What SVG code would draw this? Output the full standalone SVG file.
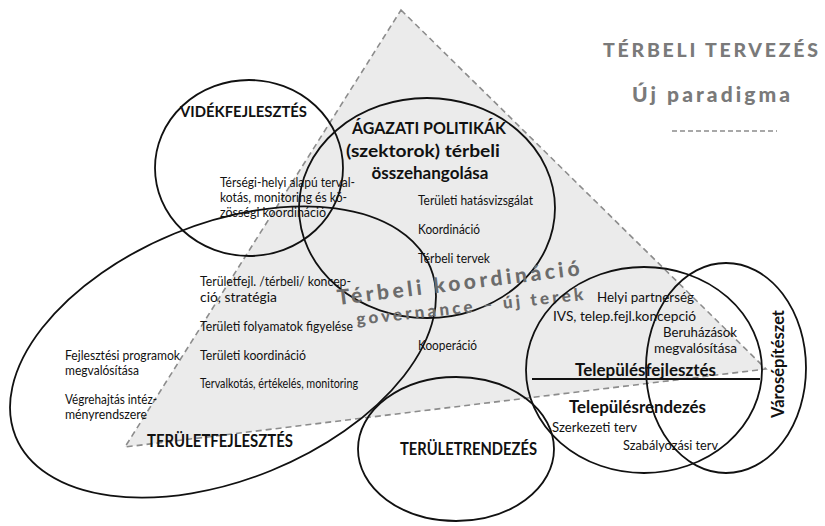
<svg xmlns="http://www.w3.org/2000/svg" width="825" height="526" viewBox="0 0 825 526">
<style>
  .tri{fill:#ebebeb;stroke:#8c8c8c;stroke-width:1.6;stroke-dasharray:6 4}
  .ring{fill:none;stroke:#111;stroke-width:1.8}
  .t{font-family:Lato,"Open Sans","Liberation Sans",sans-serif;fill:#111;font-size:13.5px}
  .r{font-size:14px}
  .s{font-size:12.5px}
  .b{font-weight:bold;font-size:16.5px}
  .title{font-family:Lato,"Open Sans","Liberation Sans",sans-serif;font-weight:900;fill:#7a7a7a}
  .big{font-family:Lato,"Open Sans","Liberation Sans",sans-serif;font-weight:900;fill:#6c6c6c}
</style>
<rect width="825" height="526" fill="#fff"/>

<g id="terbeli-koordinacio">
  <polygon class="tri" points="401,10 766,369 125,447"/>
</g>

<g id="cim">
  <text class="title" x="603" y="57" font-size="19.5" textLength="215" lengthAdjust="spacing">TÉRBELI TERVEZÉS</text>
  <text class="title" x="632" y="102" font-size="21" textLength="158" lengthAdjust="spacing">Új paradigma</text>
  <line x1="672" y1="131" x2="777" y2="131" stroke="#8c8c8c" stroke-width="1.6" stroke-dasharray="5 3"/>
</g>

<g id="videkfejlesztes">
  <ellipse class="ring" cx="249" cy="168" rx="94" ry="88"/>
  <text class="t b" x="180" y="117" style="font-size:15.5px" textLength="127" lengthAdjust="spacingAndGlyphs">VIDÉKFEJLESZTÉS</text>
</g>

<g id="agazati-politikak">
  <ellipse class="ring" cx="427" cy="208" rx="128" ry="110"/>
  <text class="t b" x="429" y="134" text-anchor="middle" style="font-size:17.5px" textLength="154" lengthAdjust="spacingAndGlyphs">ÁGAZATI POLITIKÁK</text>
  <text class="t b" x="423" y="157" text-anchor="middle" style="font-size:17.5px" textLength="154" lengthAdjust="spacingAndGlyphs">(szektorok) térbeli</text>
  <text class="t b" x="430" y="179" text-anchor="middle" style="font-size:17.5px" textLength="117" lengthAdjust="spacingAndGlyphs">összehangolása</text>
  <text class="t" x="418" y="205" textLength="115" lengthAdjust="spacingAndGlyphs">Területi hatásvizsgálat</text>
  <text class="t" x="418" y="234" textLength="62" lengthAdjust="spacingAndGlyphs">Koordináció</text>
  <text class="t" x="418" y="263" textLength="72" lengthAdjust="spacingAndGlyphs">Térbeli tervek</text>
</g>

<g id="kozossegi-koordinacio">
  <text class="t" x="220" y="187" textLength="135" lengthAdjust="spacingAndGlyphs">Térségi-helyi alapú terval-</text>
  <text class="t" x="220" y="202" textLength="127" lengthAdjust="spacingAndGlyphs">kotás, monitoring és kö-</text>
  <text class="t" x="220" y="217" textLength="106" lengthAdjust="spacingAndGlyphs">zösségi koordináció</text>
</g>

<g id="teruletfejlesztes">
  <ellipse class="ring" cx="223" cy="352" rx="224" ry="128" transform="rotate(-22.2 223 352)"/>
  <text class="t" x="200" y="286" textLength="151" lengthAdjust="spacingAndGlyphs">Területfejl. /térbeli/ koncep-</text>
  <text class="t" x="200" y="302" textLength="77" lengthAdjust="spacingAndGlyphs">ció, stratégia</text>
  <text class="t" x="200" y="331" textLength="153" lengthAdjust="spacingAndGlyphs">Területi folyamatok figyelése</text>
  <text class="t" x="200" y="360" textLength="106" lengthAdjust="spacingAndGlyphs">Területi koordináció</text>
  <text class="t s" x="200" y="388" textLength="158" lengthAdjust="spacingAndGlyphs">Tervalkotás, értékelés, monitoring</text>
  <text class="t" x="65" y="360" textLength="115" lengthAdjust="spacingAndGlyphs">Fejlesztési programok</text>
  <text class="t" x="65" y="375" textLength="74" lengthAdjust="spacingAndGlyphs">megvalósítása</text>
  <text class="t" x="65" y="404" textLength="92" lengthAdjust="spacingAndGlyphs">Végrehajtás intéz-</text>
  <text class="t" x="65" y="419" textLength="82" lengthAdjust="spacingAndGlyphs">ményrendszere</text>
  <text class="t b" x="147" y="447" textLength="146" lengthAdjust="spacingAndGlyphs">TERÜLETFEJLESZTÉS</text>
</g>

<g id="kooperacio">
  <text class="t" x="418" y="350" textLength="59" lengthAdjust="spacingAndGlyphs">Kooperáció</text>
  <text class="big" x="338" y="305" font-size="21" textLength="244" lengthAdjust="spacing" transform="rotate(-7 338 305)">Térbeli koordináció</text>
  <text class="big" x="357" y="325" font-size="17" textLength="228" lengthAdjust="spacing" transform="rotate(-6.3 357 325)">governance – új terek</text>
</g>

<g id="teruletrendezes">
  <ellipse class="ring" cx="456" cy="449" rx="98" ry="72"/>
  <text class="t b" x="400" y="455" textLength="137" lengthAdjust="spacingAndGlyphs">TERÜLETRENDEZÉS</text>
</g>

<g id="telepulesfejlesztes">
  <ellipse class="ring" cx="644" cy="370" rx="118" ry="103"/>
  <line x1="532" y1="379" x2="760" y2="379" stroke="#111" stroke-width="2"/>
  <text class="t r" x="597" y="302" textLength="97" lengthAdjust="spacingAndGlyphs">Helyi partnerség</text>
  <text class="t r" x="553" y="321" textLength="143" lengthAdjust="spacingAndGlyphs">IVS, telep.fejl.koncepció</text>
  <text class="t r" x="663" y="337" textLength="74" lengthAdjust="spacingAndGlyphs">Beruházások</text>
  <text class="t r" x="654" y="353" textLength="83" lengthAdjust="spacingAndGlyphs">megvalósítása</text>
  <text class="t b" x="575" y="376" textLength="141" lengthAdjust="spacingAndGlyphs">Településfejlesztés</text>
  <text class="t b" x="569" y="413" textLength="137" lengthAdjust="spacingAndGlyphs">Településrendezés</text>
  <text class="t r" x="552" y="432" textLength="85" lengthAdjust="spacingAndGlyphs">Szerkezeti terv</text>
  <text class="t r" x="623" y="450" textLength="95" lengthAdjust="spacingAndGlyphs">Szabályozási terv</text>
</g>

<g id="varosepiteszet">
  <ellipse class="ring" cx="726" cy="368" rx="80" ry="105"/>
  <text class="t b" x="0" y="0" text-anchor="middle" textLength="108" lengthAdjust="spacingAndGlyphs" transform="translate(784 364) rotate(-90)">Városépítészet</text>
</g>
</svg>
